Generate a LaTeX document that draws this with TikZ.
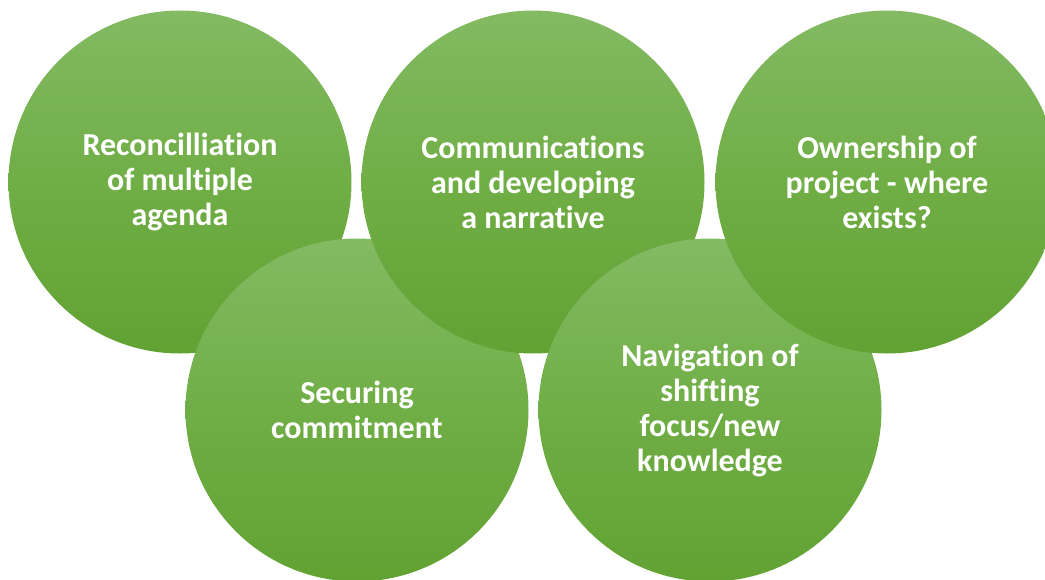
\documentclass[tikz,border=0pt]{standalone}
\usepackage{fontspec}
\setmainfont{Carlito}[Ligatures=NoCommon]
\definecolor{gtop}{RGB}{131,186,99}
\definecolor{gmid}{RGB}{112,174,70}
\definecolor{gbot}{RGB}{98,162,51}
\begin{document}
\begin{tikzpicture}[x=1pt,y=-1pt]
\tikzset{bubble/.style={circle, minimum size=343pt, inner sep=0pt,
  top color=gtop, bottom color=gbot, middle color=gmid, draw=none,
  text=white, align=center, font=\bfseries\fontsize{32}{35}\selectfont}}
\useasboundingbox (0,0) rectangle (1045,579);
\clip (0,0) rectangle (1045,579);
\node[bubble] (a) at (180,182) {Reconcilliation\\of multiple\\agenda};
\node[bubble] (d) at (357,410) {Securing\\commitment};
\node[bubble] (b) at (533,182) {Communications\\and developing\\a narrative};
\node[bubble] (e) at (710,410) {Navigation of\\shifting\\focus/new\\knowledge};
\node[bubble] (c) at (887,182) {Ownership of\\project - where\\exists?};
\end{tikzpicture}
\end{document}
